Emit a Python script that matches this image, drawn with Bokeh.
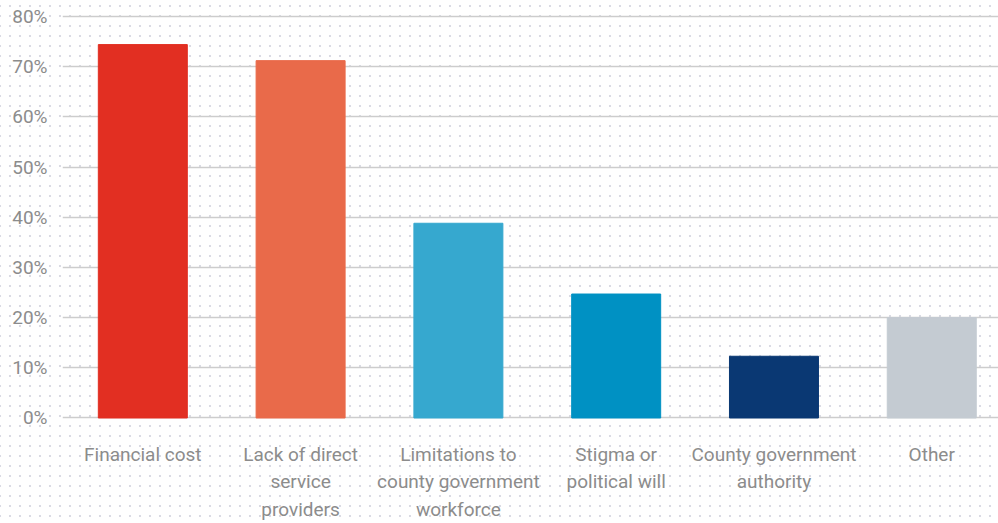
from bokeh.plotting import figure
from bokeh.models import Range1d, FixedTicker, ColumnDataSource
from bokeh.embed import file_html
from bokeh.resources import INLINE

categories = ["Financial cost", "Lack of direct\nservice\nproviders",
              "Limitations to\ncounty government\nworkforce", "Stigma or\npolitical will",
              "County government\nauthority", "Other"]
values = [74.4, 71.2, 38.8, 24.7, 12.3, 20.0]
colors = ["#E22F22", "#E96A4A", "#36A8CF", "#0091C3", "#0A3873", "#C4CBD2"]
y_ticks = [0, 10, 20, 30, 40, 50, 60, 70, 80]
y_tick_labels = ["0%", "10%", "20%", "30%", "40%", "50%", "60%", "70%", "80%"]

FONT = "Roboto"
GREY = "#8c8c8c"

xs = list(range(len(categories)))
src = ColumnDataSource(dict(x=xs, top=values, color=colors))

p = figure(width=998, height=523, output_backend="svg", toolbar_location=None,
           x_range=Range1d(-0.509, 5.423), y_range=Range1d(-0.5, 81.19),
           min_border_left=62, min_border_right=0, min_border_top=10, min_border_bottom=102)
p.background_fill_color = None
p.border_fill_color = None
p.outline_line_color = None

dot_svg = ("url(\"data:image/svg+xml;utf8,<svg xmlns='http://www.w3.org/2000/svg' width='10' height='10'>"
           "<rect x='0' y='0' width='2' height='2' fill='%23dadae4'/></svg>\")")
p.styles = {"background-image": dot_svg, "background-size": "10px 10px",
            "background-position": "9px 5px", "background-color": "white"}

p.vbar(x="x", top="top", bottom=0, width=0.564, color="color", source=src)

p.xgrid.grid_line_color = None
p.ygrid.grid_line_color = "#cdcdcd"
p.ygrid.grid_line_width = 1.5
p.ygrid.ticker = FixedTicker(ticks=y_ticks)

p.yaxis.ticker = FixedTicker(ticks=y_ticks)
p.yaxis.major_label_overrides = {t: l for t, l in zip(y_ticks, y_tick_labels)}
p.xaxis.ticker = FixedTicker(ticks=xs)
p.xaxis.major_label_overrides = {i: c for i, c in zip(xs, categories)}

for ax in (p.xaxis, p.yaxis):
    ax.axis_line_color = None
    ax.major_tick_line_color = None
    ax.minor_tick_line_color = None
    ax.major_tick_out = 0
    ax.major_tick_in = 0
    ax.major_label_text_font = FONT
    ax.major_label_text_font_size = "19px"
    ax.major_label_text_color = GREY

p.yaxis.major_label_standoff = 15
p.xaxis.major_label_standoff = 22
p.xaxis.major_label_text_line_height = 1.2

open("out.html", "w").write(file_html(p, INLINE))
